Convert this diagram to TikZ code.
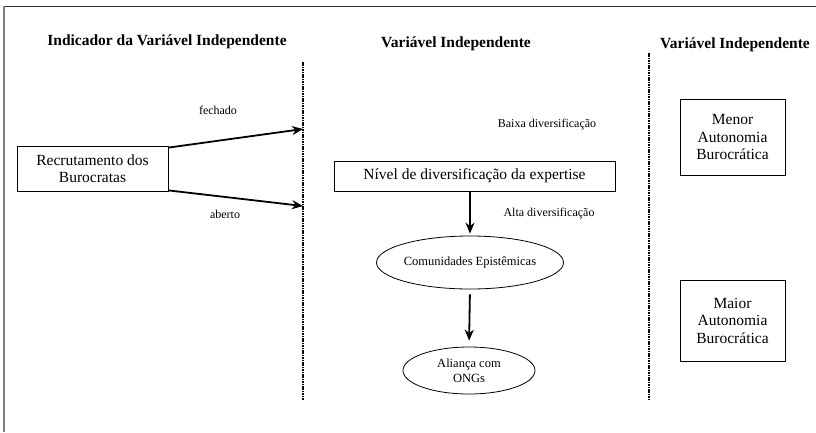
\documentclass[tikz,border=0pt]{standalone}
\usepackage{fontspec}
\setmainfont{Liberation Serif}
\usetikzlibrary{positioning, arrows, arrows.meta, shapes.geometric}
\tikzset{
    >={Stealth[length=11pt, width=9pt]}, % filled arrow heads
    box/.style={draw, thick, align=center, inner sep=2pt, font=\fontsize{15.5}{17.5}\selectfont}, % square boxes
    oval/.style={ellipse, draw, thick, align=center, inner sep=0pt, font=\fontsize{12.5}{15}\selectfont}, % round nodes
    heading/.style={font=\fontsize{15.5}{18}\selectfont\bfseries}, % column titles
    lbl/.style={font=\fontsize{12}{14}\selectfont}, % arrow labels
    flow/.style={->, line width=1.8pt},
    divider/.style={dash pattern=on 1.6pt off 0.8pt, line width=2pt},
}

\begin{document}
\begin{tikzpicture}[x=1pt, y=-1pt]
        \useasboundingbox (0,0) rectangle (816,432);
        % frame
        \draw[black!80, line width=0.8pt] (4,6) -- (816,6);
        \draw[black!50, line width=1.2pt] (4,6) -- (4,432);

        % column titles
        \node[heading] (t1) at (167,42) {Indicador da Variável Independente};
        \node[heading] (t2) at (456,44) {Variável Independente};
        \node[heading] (t3) at (735,45) {Variável Independente};

        % dotted separators
        \coordinate (d1a) at (303,62);
        \coordinate (d1b) at (303,400);
        \coordinate (d2a) at (649,53);
        \coordinate (d2b) at (649,399);
        \draw[divider] (d1a) -- (d1b);
        \draw[divider] (d2a) -- (d2b);

        % left column
        \node[box, minimum width=151pt, minimum height=45pt] (rec) at (92.5,168.5) {Recrutamento dos\\Burocratas};
        \coordinate (fe) at (303,129);
        \coordinate (ab) at (303,206);
        \draw[flow] ([yshift=-2pt]rec.north east) -- (fe);
        \draw[flow] ([yshift=1pt]rec.south east) -- (ab);
        \node[lbl] (lfe) at (218,110) {fechado};
        \node[lbl] (lab) at (225,214) {aberto};

        % middle column
        \node[box, minimum width=281pt, minimum height=30pt] (niv) at (474.5,176) {Nível de diversificação da expertise};
        \node[oval, minimum width=184pt, minimum height=53pt] (com) at (470,262.5) {Comunidades Epistêmicas};
        \node[oval, minimum width=132pt, minimum height=47pt] (ali) at (469,370.5) {Aliança com\\ONGs};
        \draw[flow, shorten >=2pt] (niv.south -| com.north) -- (com.north);
        \draw[flow, shorten <=5pt, shorten >=6pt] (com.south) -- (ali.north);
        \node[lbl] (lba) at (547,125) {Baixa diversificação};
        \node[lbl] (lal) at (549,214) {Alta diversificação};

        % right column
        \node[box, minimum width=105pt, minimum height=76pt] (men) at (732.5,137) {Menor\\Autonomia\\Burocrática};
        \node[box, minimum width=105pt, minimum height=81pt] (mai) at (732.5,320.5) {Maior\\Autonomia\\Burocrática};
    \end{tikzpicture}
\end{document}
